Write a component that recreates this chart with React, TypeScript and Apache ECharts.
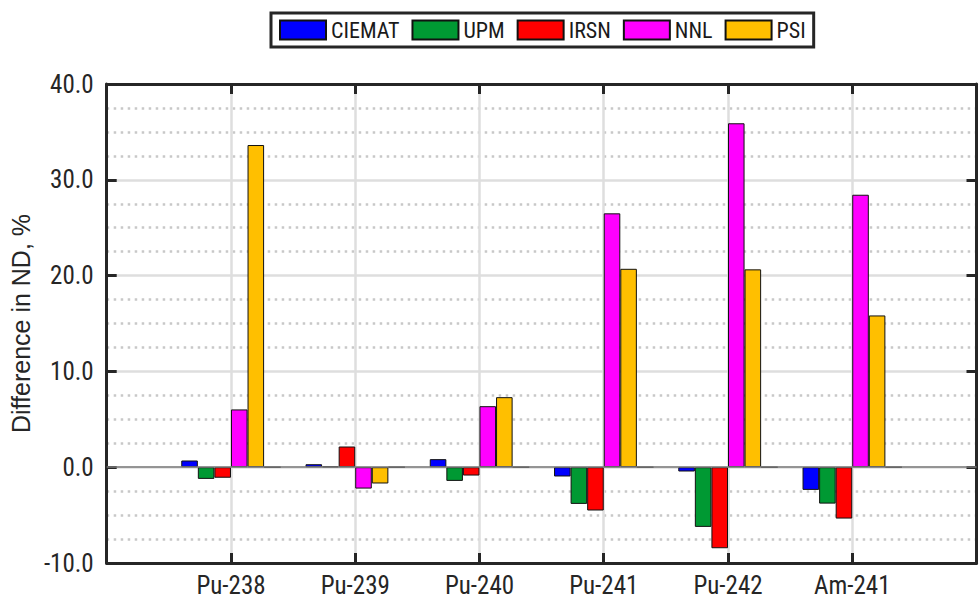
import React, { useEffect, useRef } from "react";
import * as echarts from "echarts";

// Nuclides along the x axis; the empty entries pad the axis to 0..7.
const categories = ["", "Pu-238", "Pu-239", "Pu-240", "Pu-241", "Pu-242", "Am-241", ""];

// Difference in number density, %, per participant
const ciemat = [0.7, 0.31, 0.84, -0.97, -0.45, -2.37];
const upm = [-1.22, 0.08, -1.43, -3.83, -6.23, -3.8];
const irsn = [-1.1, 2.16, -0.87, -4.52, -8.46, -5.36];
const nnl = [6.03, -2.23, 6.37, 26.5, 35.9, 28.44];
const psi = [33.63, -1.7, 7.31, 20.71, 20.65, 15.84];
// empty sixth slot of each group (drawn as a flat outline)
const spacer = [0, 0, 0, 0, 0, 0];

const seriesNames = ["CIEMAT", "UPM", "IRSN", "NNL", "PSI"];
const seriesColors = ["#0000ff", "#009933", "#ff0000", "#ff00ff", "#ffbf00"];

const yMin = -10;
const yMax = 40;
const yStep = 10;

const NARROW = "'Liberation Sans Narrow', 'Roboto Condensed', 'DejaVu Sans Condensed', 'Liberation Sans', Arial, sans-serif";
const REGULAR = "'Liberation Sans', Arial, sans-serif";
const INK = "#262626";

const pad = (vals: number[]) => ["-", ...vals, "-"];

export default function App() {
  const ref = useRef<HTMLDivElement>(null);

  useEffect(() => {
    document.body.style.margin = "0";
    if (!ref.current) return;
    const chart = echarts.init(ref.current, null, { renderer: "svg" });

    const values = [ciemat, upm, irsn, nnl, psi];
    const barSeries: any[] = values.map((vals, i) => ({
      name: seriesNames[i],
      type: "bar",
      data: pad(vals),
      barGap: "0%",
      barCategoryGap: "20%",
      itemStyle: { color: seriesColors[i], borderColor: "#111", borderWidth: 1 },
      ...(i === 0
        ? {
            markLine: {
              silent: true,
              symbol: ["none", "none"],
              label: { show: false },
              lineStyle: { color: "#7a7a7a", width: 1.5, type: "solid" },
              data: [{ yAxis: 0 }],
            },
          }
        : {}),
    }));
    barSeries.push({
      name: "spacer",
      type: "bar",
      data: pad(spacer),
      barGap: "0%",
      barCategoryGap: "20%",
      itemStyle: { color: "rgba(0,0,0,0)", borderColor: "#222", borderWidth: 1 },
    });

    const frameLine = { show: true, onZero: false, lineStyle: { color: INK, width: 3 } };
    const innerTick = { show: true, inside: true, length: 10, lineStyle: { color: INK, width: 3 } };

    chart.setOption({
      animation: false,
      backgroundColor: "#ffffff",
      grid: { left: 103.5, right: 3.5, top: 84, bottom: 37, containLabel: false },
      legend: {
        data: seriesNames,
        left: 271,
        top: 13,
        icon: "rect",
        itemWidth: 46,
        itemHeight: 19,
        itemGap: 12,
        padding: [6, 8],
        borderColor: INK,
        borderWidth: 3,
        backgroundColor: "#ffffff",
        textStyle: { fontFamily: NARROW, fontSize: 22, color: "#1a1a1a" },
      },
      xAxis: [
        {
          type: "category",
          data: categories,
          boundaryGap: false,
          position: "bottom",
          axisLine: frameLine,
          axisTick: { ...innerTick, interval: 0 },
          axisLabel: { interval: 0, margin: 10, fontFamily: NARROW, fontSize: 25, color: INK },
          splitLine: {
            show: true,
            interval: (idx: number) => idx > 0 && idx < categories.length - 1,
            lineStyle: { color: "#dedede", width: 2.5 },
          },
        },
        {
          type: "category",
          data: categories,
          boundaryGap: false,
          position: "top",
          axisLine: frameLine,
          axisTick: { ...innerTick, interval: 0 },
          axisLabel: { show: false },
          splitLine: { show: false },
        },
      ],
      yAxis: [
        {
          type: "value",
          min: yMin,
          max: yMax,
          interval: yStep,
          position: "left",
          name: "Difference in ND, %",
          nameLocation: "middle",
          nameRotate: 90,
          nameGap: 68,
          nameTextStyle: { fontFamily: REGULAR, fontSize: 25, color: INK },
          axisLine: frameLine,
          axisTick: innerTick,
          axisLabel: {
            margin: 13,
            fontFamily: NARROW,
            fontSize: 25,
            color: INK,
            formatter: (v: number) => v.toFixed(1),
          },
          splitLine: {
            show: true,
            showMinLine: false,
            showMaxLine: false,
            lineStyle: { color: "#dedede", width: 2.5 },
          },
          minorTick: { show: false, splitNumber: 4 },
          minorSplitLine: {
            show: true,
            lineStyle: { color: "#c8c8c8", width: 2.5, type: [2.5, 4.5] },
          },
        },
        {
          type: "value",
          min: yMin,
          max: yMax,
          interval: yStep,
          position: "right",
          axisLine: frameLine,
          axisTick: innerTick,
          axisLabel: { show: false },
          splitLine: { show: false },
        },
      ],
      series: barSeries,
    });

    return () => chart.dispose();
  }, []);

  return <div ref={ref} style={{ width: 980, height: 600 }} />;
}
